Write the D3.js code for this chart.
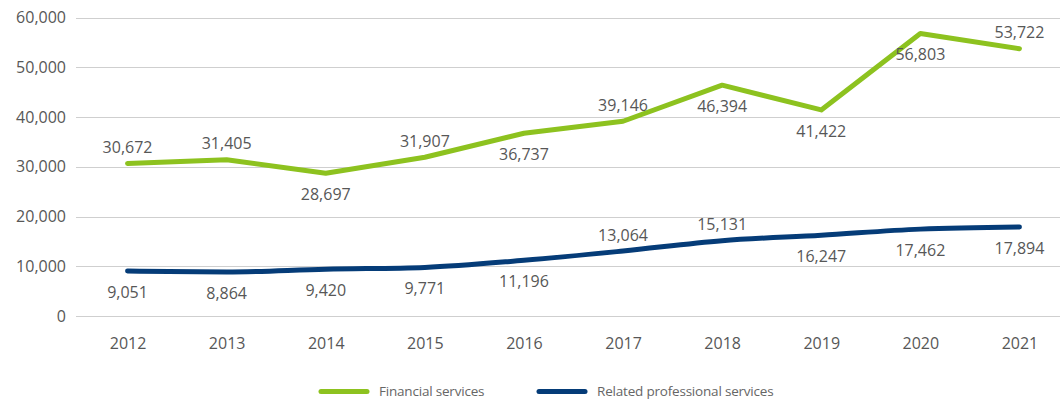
<!DOCTYPE html>
<html lang="en">
<head>
    <meta charset="UTF-8">
    <title>Financial and related professional services</title>
    <script src="https://d3js.org/d3.v7.min.js"></script>
    <style>
        body {
            margin: 0;
            background: #fff;
            font-family: "Open Sans", Arial, sans-serif;
        }
        .tick text {
            font-size: 16px;
            fill: #575757;
        }
        .value-label {
            font-size: 16px;
            fill: #575757;
        }
        .legend text {
            font-size: 13.5px;
            fill: #666;
            letter-spacing: -0.2px;
        }
    </style>
</head>
<body>
    <svg width="1060" height="400"></svg>
    <script>
        const years = ["2012", "2013", "2014", "2015", "2016", "2017", "2018", "2019", "2020", "2021"];
        const financial = [30672, 31405, 28697, 31907, 36737, 39146, 46394, 41422, 56803, 53722];
        const professional = [9051, 8864, 9420, 9771, 11196, 13064, 15131, 16247, 17462, 17894];
        const yTicks = [0, 10000, 20000, 30000, 40000, 50000, 60000];
        // where each data label sits relative to its point
        const financialPlace = ["above", "above", "below", "above", "below", "above", "below", "below", "below", "above"];
        const professionalPlace = ["below", "below", "below", "below", "below", "above", "above", "below", "below", "below"];

        const series = [
            { name: "Financial services", values: financial, place: financialPlace, color: "#8dc21f", curve: d3.curveLinear },
            { name: "Related professional services", values: professional, place: professionalPlace, color: "#053c78", curve: d3.curveMonotoneX }
        ];

        const svg = d3.select("svg");
        const gridLeft = 76, gridRight = 1060;

        const x = d3.scalePoint()
            .domain(years)
            .range([78, 1069])
            .padding(0.5);
        const y = d3.scaleLinear()
            .domain([0, 60000])
            .range([316, 17.5]);

        // gridlines
        svg.append("g")
            .selectAll("line")
            .data(yTicks)
            .enter()
            .append("line")
            .attr("x1", gridLeft)
            .attr("x2", gridRight)
            .attr("y1", d => Math.round(y(d)) + 0.5)
            .attr("y2", d => Math.round(y(d)) + 0.5)
            .attr("stroke", "#cfcfcf")
            .attr("stroke-width", 1.2);

        // y axis labels
        const yAxis = svg.append("g")
            .attr("transform", "translate(" + gridLeft + ",0)")
            .call(d3.axisLeft(y).tickValues(yTicks).tickFormat(d3.format(",")).tickSize(0).tickPadding(10));
        yAxis.select(".domain").remove();

        // x axis labels
        const xAxis = svg.append("g")
            .attr("transform", "translate(0,316)")
            .call(d3.axisBottom(x).tickSize(0).tickPadding(22));
        xAxis.select(".domain").remove();

        svg.selectAll(".tick text").attr("font-family", "Open Sans, Arial, sans-serif");

        series.forEach(function(s) {
            const line = d3.line()
                .x((d, i) => x(years[i]))
                .y(d => y(d))
                .curve(s.curve);

            svg.append("path")
                .datum(s.values)
                .attr("fill", "none")
                .attr("stroke", s.color)
                .attr("stroke-width", 5)
                .attr("stroke-linecap", "round")
                .attr("stroke-linejoin", "round")
                .attr("d", line);

            svg.append("g")
                .selectAll("text")
                .data(s.values)
                .enter()
                .append("text")
                .attr("class", "value-label")
                .attr("text-anchor", "middle")
                .attr("x", (d, i) => x(years[i]))
                .attr("y", (d, i) => y(d) + (s.place[i] === "above" ? -16 : 21))
                .attr("dy", "0.35em")
                .text(d => d3.format(",")(d));
        });

        // legend
        const legendItems = [
            { x: 319, s: series[0] },
            { x: 537, s: series[1] }
        ];
        const legend = svg.append("g").attr("class", "legend");
        legendItems.forEach(function(item) {
            legend.append("line")
                .attr("x1", item.x + 2)
                .attr("x2", item.x + 48)
                .attr("y1", 391.5)
                .attr("y2", 391.5)
                .attr("stroke", item.s.color)
                .attr("stroke-width", 5)
                .attr("stroke-linecap", "round");
            legend.append("text")
                .attr("x", item.x + 60)
                .attr("y", 391.5)
                .attr("dy", "0.35em")
                .text(item.s.name);
        });
    </script>
</body>
</html>
